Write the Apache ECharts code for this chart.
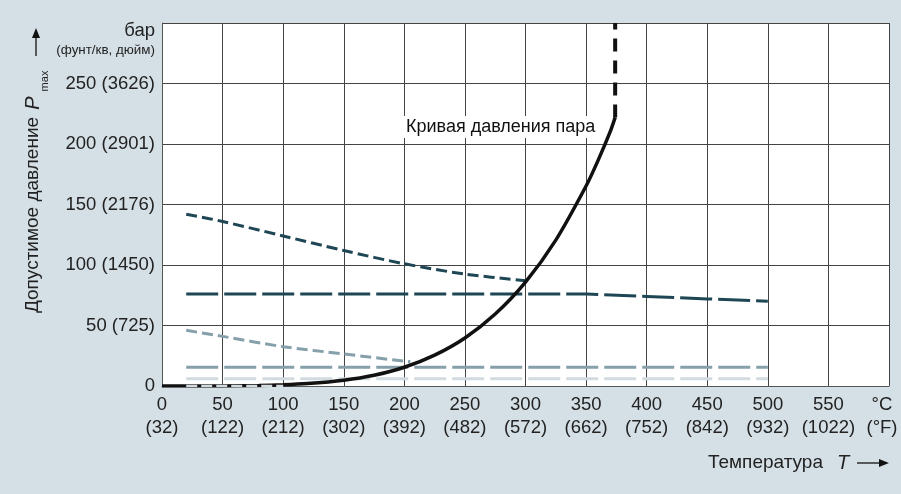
<!DOCTYPE html>
<html>
<head>
<meta charset="utf-8">
<script src="https://cdn.jsdelivr.net/npm/echarts@6/dist/echarts.min.js"></script>
<style>
html,body{margin:0;padding:0;background:#d5e0e6;}
#c{width:901px;height:494px;}
</style>
</head>
<body>
<div id="c"></div>
<script>
// ---- data ----
const xTicksC = ['0','50','100','150','200','250','300','350','400','450','500','550','°C'];
const xTicksF = ['(32)','(122)','(212)','(302)','(392)','(482)','(572)','(662)','(752)','(842)','(932)','(1022)','(°F)'];
const yTickLabels = ['0','50 (725)','100 (1450)','150 (2176)','200 (2901)','250 (3626)',''];

const vaporT = [0,20,50,80,100,120,150,175,200,225,250,275,300,325,350,360,370,374];
const vaporP = [0,0,0.1,0.5,1.0,2.0,4.8,8.9,15.5,25.5,39.7,59.5,85.9,120.6,165.3,186.7,210.4,222];
const vaporExtT = [374,374];
const vaporExtP = [222,300];

const tealShortT = [20,50,100,150,200,250,300];
const tealShortP = [142,136,124,112,101,92.5,87];
const tealLongT = [20,350,400,450,500];
const tealLongP = [76,76,74,72,70];
const greyShortT = [20,50,100,150,200,205];
const greyShortP = [46,41,32.5,26.5,20.5,20];
const greyLongT = [20,500];
const greyLongP = [15.5,15.5];
const lightLongT = [20,500];
const lightLongP = [6,6];
const lightZeroT = [20,100];
const lightZeroP = [0,0];

const pairs = (xs, ys) => xs.map((x, i) => [x, ys[i]]);

const FONT = 'Liberation Sans, Arial, sans-serif';
const TEAL = '#1e4655', GREY = '#86a0ab', LIGHT = '#d2dce0';

const chart = echarts.init(document.getElementById('c'));
chart.setOption({
  backgroundColor: '#d5e0e6',
  animation: false,
  grid: {left: 162, right: 12, top: 23, bottom: 108, show: true, backgroundColor: '#ffffff', borderWidth: 0,
         containLabel: false, outerBoundsMode: 'none'},
  xAxis: {
    type: 'value', min: 0, max: 600, interval: 50,
    axisLine: {show: true, lineStyle: {color: '#555', width: 1}},
    axisTick: {show: false},
    splitLine: {show: true, lineStyle: {color: '#444', width: 1}},
    axisLabel: {
      margin: 7, color: '#222', fontFamily: FONT, fontSize: 18.5, lineHeight: 23,
      formatter: v => {
        const i = Math.round(v / 50);
        const s = xTicksC[i] + '\n' + xTicksF[i];
        return i === xTicksC.length - 1 ? '{e|' + s + '}' : s;
      },
      rich: {e: {fontFamily: FONT, fontSize: 18.5, lineHeight: 23, color: '#222', padding: [0, 14, 0, 0]}}
    }
  },
  yAxis: {
    type: 'value', min: 0, max: 300, interval: 50,
    axisLine: {show: true, lineStyle: {color: '#555', width: 1}},
    axisTick: {show: false},
    splitLine: {show: true, lineStyle: {color: '#444', width: 1}},
    axisLabel: {
      margin: 7, color: '#222', fontFamily: FONT, fontSize: 18.5,
      formatter: v => yTickLabels[Math.round(v / 50)]
    }
  },
  series: [
    {type: 'line', data: pairs(tealShortT, tealShortP), symbol: 'none', smooth: 0.3, z: 3,
     lineStyle: {color: TEAL, width: 3, type: [11, 5]}},
    {type: 'line', data: pairs(tealLongT, tealLongP), symbol: 'none', z: 3,
     lineStyle: {color: TEAL, width: 3, type: [32, 6]}},
    {type: 'line', data: pairs(greyShortT, greyShortP), symbol: 'none', smooth: 0.3, z: 3,
     lineStyle: {color: GREY, width: 3, type: [11, 5]}},
    {type: 'line', data: pairs(greyLongT, greyLongP), symbol: 'none', z: 3,
     lineStyle: {color: GREY, width: 3, type: [32, 6]}},
    {type: 'line', data: pairs(lightLongT, lightLongP), symbol: 'none', z: 3,
     lineStyle: {color: LIGHT, width: 3, type: [32, 6]}},
    {type: 'line', data: pairs(vaporT, vaporP), symbol: 'none', smooth: 0.25, z: 4,
     lineStyle: {color: '#111', width: 3.5}},
    {type: 'line', data: pairs(vaporExtT, vaporExtP), symbol: 'none', z: 4,
     lineStyle: {color: '#111', width: 4, type: [13, 9]}},
    {type: 'line', data: pairs(lightZeroT, lightZeroP), symbol: 'none', z: 5,
     lineStyle: {color: LIGHT, width: 2.5, type: [11, 4]}}
  ],
  graphic: [
    {type: 'text', left: 404, top: 116, z: 10,
     style: {text: 'Кривая давления пара', fill: '#111', font: '18px ' + FONT, backgroundColor: '#fff', padding: [2, 2]}},
    {type: 'text', x: 155, y: 31, z: 10,
     style: {text: 'бар', fill: '#222', font: '18.5px ' + FONT, align: 'right', verticalAlign: 'middle'}},
    {type: 'text', x: 155, y: 50, z: 10,
     style: {text: '(фунт/кв, дюйм)', fill: '#222', font: '13.4px ' + FONT, align: 'right', verticalAlign: 'middle'}},
    {type: 'text', x: 33, y: 215, rotation: Math.PI / 2, z: 10,
     style: {text: 'Допустимое давление', fill: '#222', font: '19px ' + FONT, align: 'center', verticalAlign: 'middle'}},
    {type: 'text', x: 33, y: 103, rotation: Math.PI / 2, z: 10,
     style: {text: 'P', fill: '#222', font: 'italic 20px ' + FONT, align: 'center', verticalAlign: 'middle'}},
    {type: 'text', x: 45, y: 81, rotation: Math.PI / 2, z: 10,
     style: {text: 'max', fill: '#222', font: '11px ' + FONT, align: 'center', verticalAlign: 'middle'}},
    {type: 'line', z: 10, shape: {x1: 36, y1: 56, x2: 36, y2: 36}, style: {stroke: '#111', lineWidth: 1.3}},
    {type: 'polygon', z: 10, shape: {points: [[36, 28], [32, 38], [40, 38]]}, style: {fill: '#111'}},
    {type: 'text', x: 823, y: 463, z: 10,
     style: {text: 'Температура', fill: '#222', font: '19px ' + FONT, align: 'right', verticalAlign: 'middle'}},
    {type: 'text', x: 843, y: 463, z: 10,
     style: {text: 'T', fill: '#222', font: 'italic 20px ' + FONT, align: 'center', verticalAlign: 'middle'}},
    {type: 'line', z: 10, shape: {x1: 857, y1: 463, x2: 880, y2: 463}, style: {stroke: '#111', lineWidth: 1.3}},
    {type: 'polygon', z: 10, shape: {points: [[889, 463], [879, 459], [879, 467]]}, style: {fill: '#111'}}
  ]
});
</script>
</body>
</html>
